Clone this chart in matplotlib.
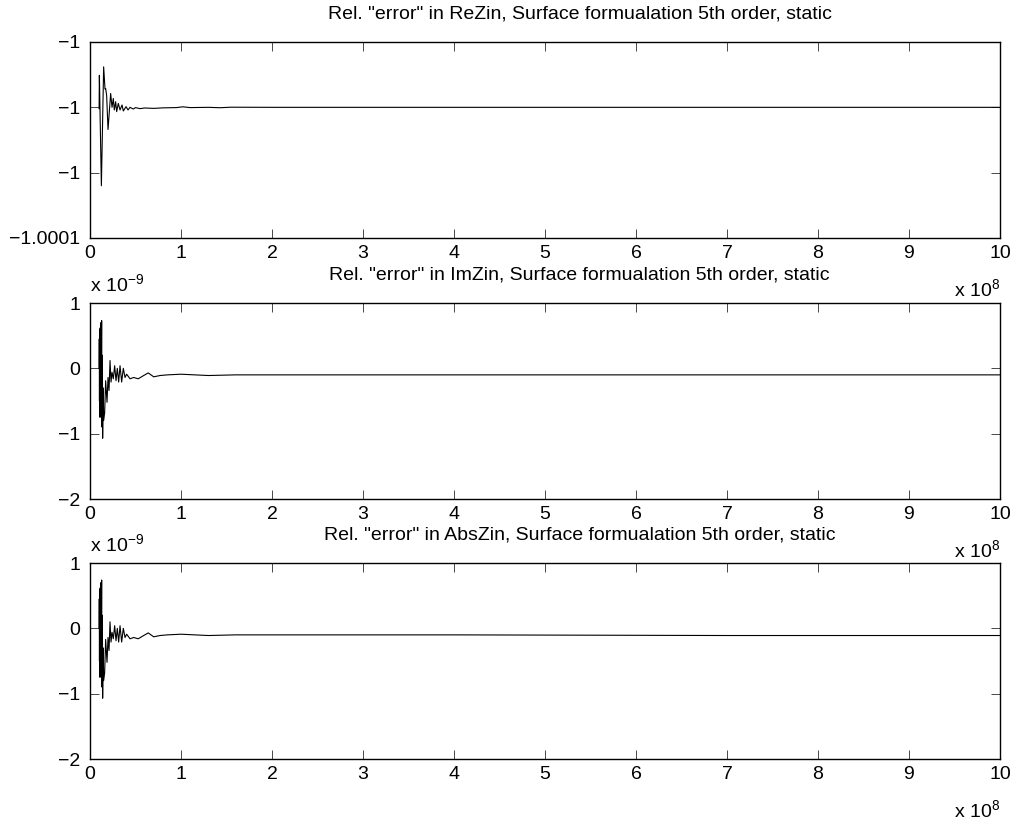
import matplotlib.pyplot as plt
import numpy as np

plt.rcParams['font.family'] = ['Liberation Sans', 'DejaVu Sans']
plt.rcParams['mathtext.fontset'] = 'custom'
plt.rcParams['mathtext.rm'] = 'Liberation Sans'
plt.rcParams['font.size'] = 14

# frequency in units of 1e8 Hz, ReZin rel. error offset from -1 in units of 1e-5
f_re = [0.100, 0.103, 0.125, 0.150, 0.165, 0.172, 0.183, 0.198, 0.227, 0.242,
        0.256, 0.267, 0.282, 0.293, 0.311, 0.330, 0.352, 0.366, 0.396, 0.418,
        0.440, 0.476, 0.500, 0.550, 0.600, 0.700, 0.800, 0.950, 1.020, 1.100,
        1.300, 1.430, 1.550, 2.000, 3.000, 5.000, 7.000, 10.00]
d_re = [-0.10, 2.45, -6.00, 3.10, 1.40, 1.44, 0.90, -1.70, 1.06, 0.00,
        0.68, -0.20, 0.43, -0.33, 0.30, -0.20, 0.18, -0.28, 0.05, -0.20,
        0.00, -0.13, -0.02, -0.10, -0.05, -0.08, -0.04, -0.02, 0.04, -0.02,
        0.00, -0.03, 0.01, 0.00, 0.00, 0.00, 0.00, 0.00]

# ImZin rel. error, units of 1e-9
f_im = [0.100, 0.102, 0.104, 0.107, 0.110, 0.113, 0.116, 0.120, 0.124, 0.128,
        0.132, 0.136, 0.139, 0.145, 0.150, 0.161, 0.172, 0.187, 0.198, 0.209,
        0.220, 0.231, 0.242, 0.256, 0.271, 0.286, 0.300, 0.315, 0.330, 0.348,
        0.366, 0.385, 0.403, 0.440, 0.480, 0.530, 0.590, 0.640, 0.700, 0.770,
        0.850, 1.000, 1.150, 1.300, 1.600, 2.000, 4.000, 7.000, 10.00]
v_im = [0.00, 0.45, -0.50, 0.60, -0.75, 0.62, -0.40, 0.70, -0.20, 0.73,
        -0.90, 0.20, -1.07, -0.30, -0.80, -0.68, -0.19, -0.52, -0.14, -0.34,
        0.12, -0.21, -0.06, -0.16, 0.04, -0.19, 0.00, -0.21, 0.04, -0.21,
        0.00, -0.14, -0.09, -0.16, -0.14, -0.16, -0.11, -0.07, -0.13, -0.11,
        -0.10, -0.09, -0.10, -0.11, -0.10, -0.10, -0.10, -0.10, -0.10]

# AbsZin rel. error, units of 1e-9
f_abs = f_im
v_abs = [0.00, 0.45, -0.50, 0.60, -0.75, 0.62, -0.40, 0.70, -0.20, 0.74,
         -0.90, 0.20, -1.07, -0.30, -0.80, -0.68, -0.17, -0.52, -0.14, -0.34,
         0.10, -0.21, -0.06, -0.16, 0.04, -0.19, 0.00, -0.21, 0.04, -0.21,
         0.00, -0.14, -0.09, -0.16, -0.14, -0.16, -0.11, -0.07, -0.13, -0.11,
         -0.10, -0.09, -0.10, -0.11, -0.10, -0.10, -0.10, -0.11, -0.11]

titles = ['Rel. "error" in ReZin, Surface formualation 5th order, static',
          'Rel. "error" in ImZin, Surface formualation 5th order, static',
          'Rel. "error" in AbsZin, Surface formualation 5th order, static']

fig = plt.figure(figsize=(10.19, 8.27), dpi=100)
L, W, H = 90 / 1019, 910 / 1019, 196 / 827
bottoms = [1 - 238 / 827, 1 - 499 / 827, 1 - 759 / 827]
axes = [fig.add_axes([L, b, W, H]) for b in bottoms]

# top panel: convert offsets to actual values
y_re = -1 + np.array(d_re) * 1e-5
axes[0].plot(f_re, y_re, color='k', lw=0.8)
axes[0].set_ylim(-1.0001, -0.99995)
axes[0].set_yticks([-1.0001, -1.00005, -1.0, -0.99995])
axes[0].set_yticklabels(['\u22121.0001', '\u22121', '\u22121', '\u22121'])

axes[1].plot(f_im, v_im, color='k', lw=0.8)
axes[2].plot(f_abs, v_abs, color='k', lw=0.8)
for ax in axes[1:]:
    ax.set_ylim(-2, 1)
    ax.set_yticks([-2, -1, 0, 1])
    ax.text(0, 1.095, r'x 10$^{\mathregular{-9}}$', transform=ax.transAxes,
            ha='left', va='center')

for ax, t in zip(axes, titles):
    ax.set_xlim(0, 10)
    ax.set_xticks(range(0, 11))
    ax.text(0.538, 1.143, t, transform=ax.transAxes, ha='center', va='center')
    ax.tick_params(direction='in', length=6.5, width=0.5, top=True, right=True,
                   labelsize=14)
    ax.tick_params(axis='x', pad=5)
    ax.tick_params(axis='y', pad=7)
    for s in ax.spines.values():
        s.set_linewidth(1.0)
    ax.text(1.0, -0.265, r'x 10$^{\mathregular{8}}$', transform=ax.transAxes,
            ha='right', va='center')

fig.savefig('out.png', dpi=100)
